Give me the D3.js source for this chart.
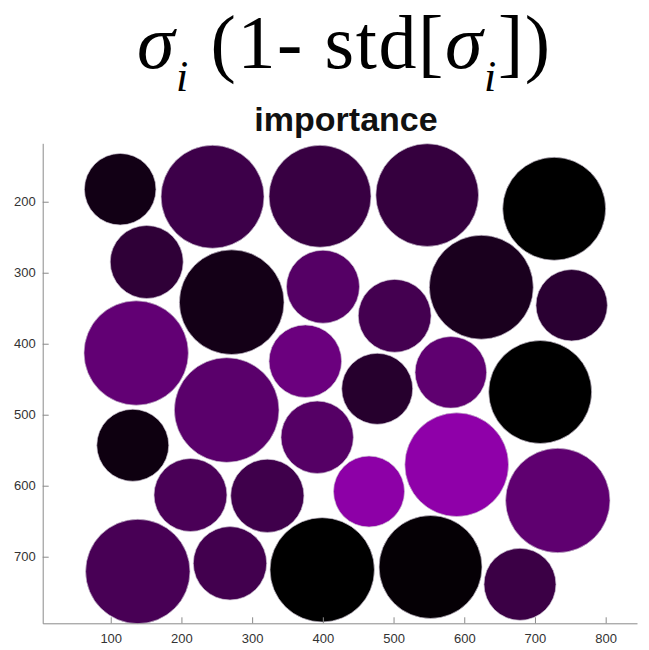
<!DOCTYPE html>
<html>
<head>
<meta charset="utf-8">
<script src="https://cdn.jsdelivr.net/npm/d3@7"></script>
<style>
  html, body { margin: 0; padding: 0; background: #ffffff; }
  svg { display: block; }
  text { white-space: pre; }
</style>
</head>
<body>
<div id="chart"></div>
<script>
// Circle centres (data units), radii (data units) and importance of each unit
const cx = [113.4, 244.0, 396.0, 547.6, 727.2,
            150.9, 271.1, 400.2, 624.1, 751.9, 501.6,
            136.0, 375.2, 264.0, 476.9, 581.0, 707.4,
            131.2, 392.0, 212.8, 321.5, 465.3, 589.3, 732.3,
            138.3, 268.7, 399.1, 552.3, 678.8];
const cy = [182.4, 193.0, 192.3, 190.6, 209.9,
            284.9, 341.5, 319.7, 320.4, 345.8, 360.7,
            413.1, 424.6, 493.4, 463.5, 440.3, 468.0,
            543.0, 531.7, 613.1, 614.2, 608.2, 570.4, 620.8,
            720.8, 709.3, 718.5, 714.5, 738.9];
const radius = [50.6, 72.8, 72.1, 72.6, 72.8,
                51.6, 74.0, 51.6, 73.5, 50.5, 51.5,
                73.8, 51.3, 74.0, 50.2, 50.6, 72.8,
                50.9, 51.2, 51.6, 51.8, 50.2, 73.3, 73.8,
                73.8, 51.9, 73.8, 72.8, 50.9];
const importance = [0.12, 0.41, 0.37, 0.35, 0.00,
                    0.31, 0.13, 0.57, 0.17, 0.28, 0.45,
                    0.65, 0.71, 0.60, 0.25, 0.63, 0.00,
                    0.09, 0.57, 0.49, 0.42, 0.94, 0.95, 0.63,
                    0.48, 0.44, 0.00, 0.03, 0.39];

const xTicks = [100, 200, 300, 400, 500, 600, 700, 800];
const yTicks = [200, 300, 400, 500, 600, 700];

const W = 649, H = 650;
const plot = { left: 42.7, right: 637, top: 143.3, bottom: 623.3 };

const svg = d3.select("#chart").append("svg")
  .attr("width", W).attr("height", H);

const x = d3.scaleLinear().domain([3.8, 844.3]).range([plot.left, plot.right]);
const y = d3.scaleLinear().domain([117.7, 793.8]).range([plot.top, plot.bottom]);
const color = d3.scaleLinear().domain([0, 1])
  .range(["#000000", "#9600b2"]).interpolate(d3.interpolateRgb);

const units = cx.map((v, i) => ({ x: v, y: cy[i], r: radius[i], v: importance[i] }));

// bubbles
svg.append("g").selectAll("circle")
  .data(units)
  .join("circle")
  .attr("cx", d => x(d.x))
  .attr("cy", d => y(d.y))
  .attr("r", d => x(d.r) - x(0))
  .attr("fill", d => color(d.v))
  .attr("stroke", "rgba(205,195,210,0.85)")
  .attr("stroke-width", 0.8);

// axes (ticks point inward)
const axisColor = "#8a8a8a";
const xAxis = svg.append("g")
  .attr("transform", `translate(0,${plot.bottom})`)
  .call(d3.axisBottom(x).tickValues(xTicks).tickSizeInner(-6).tickSizeOuter(0).tickPadding(10));
const yAxis = svg.append("g")
  .attr("transform", `translate(${plot.left},0)`)
  .call(d3.axisLeft(y).tickValues(yTicks).tickSizeInner(-6).tickSizeOuter(0).tickPadding(7));

[xAxis, yAxis].forEach(g => {
  g.select(".domain").attr("stroke", axisColor).attr("stroke-width", 1);
  g.selectAll(".tick line").attr("stroke", axisColor);
  g.selectAll(".tick text")
    .attr("fill", "#333333")
    .attr("font-family", "Liberation Sans, Arial, sans-serif")
    .attr("font-size", 13);
});

// axes title
svg.append("text")
  .attr("x", 346).attr("y", 131)
  .attr("text-anchor", "middle")
  .attr("font-family", "Liberation Sans, Arial, sans-serif")
  .attr("font-weight", "bold")
  .attr("font-size", 34)
  .attr("fill", "#111111")
  .text("importance");

// figure heading: σ_i (1- std[σ_i])
const head = svg.append("text")
  .attr("x", 137).attr("y", 68)
  .attr("font-family", "Liberation Serif, Times New Roman, serif")
  .attr("font-size", 76)
  .attr("letter-spacing", 1.6)
  .attr("fill", "#000000");
head.append("tspan").attr("font-style", "italic").text("σ");
head.append("tspan").attr("font-style", "italic").attr("font-size", 44).attr("dy", 23).text("i");
head.append("tspan").attr("dy", -23).text(" (1- std[");
head.append("tspan").attr("font-style", "italic").text("σ");
head.append("tspan").attr("font-style", "italic").attr("font-size", 44).attr("dy", 23).text("i");
head.append("tspan").attr("dy", -23).text("])");
</script>
</body>
</html>
